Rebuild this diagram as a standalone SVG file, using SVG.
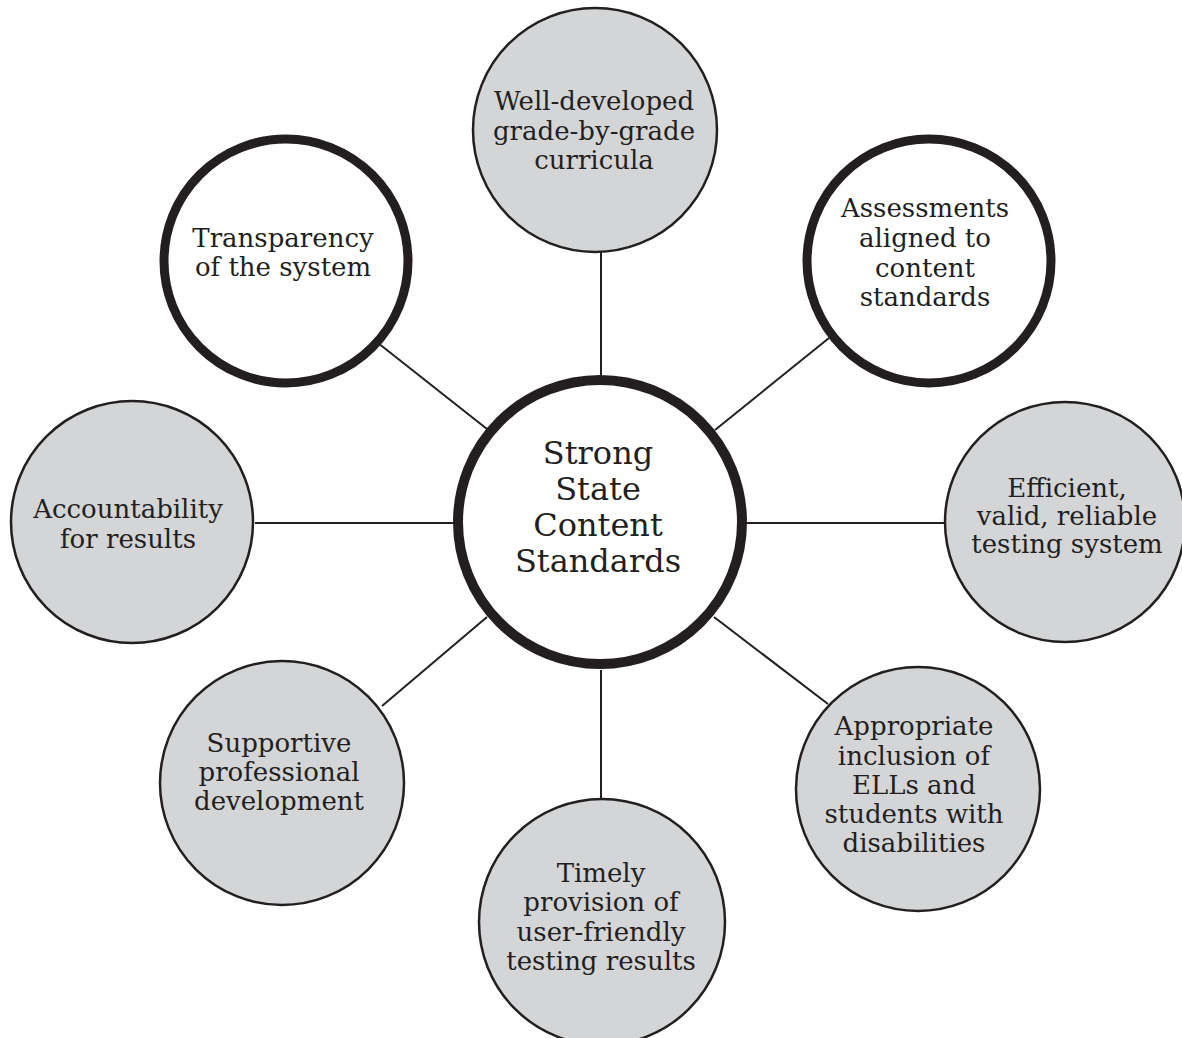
<svg xmlns="http://www.w3.org/2000/svg" width="1182" height="1038" viewBox="0 0 1182 1038">
<style>
.bg{fill:#ffffff}
.gray{fill:#d4d5d7;stroke:#231f20;stroke-width:2.5}
.bold{fill:#ffffff;stroke:#231f20;stroke-width:9}
.hub{fill:#ffffff;stroke:#231f20;stroke-width:10}
.lbl{font-family:"DejaVu Serif","Liberation Serif",serif;font-size:26px;fill:#231f20;text-anchor:middle}
.hubl{font-family:"DejaVu Serif","Liberation Serif",serif;font-size:32px;fill:#231f20;text-anchor:middle}
.conn line{stroke:#231f20;stroke-width:2}
</style>
<rect class="bg" x="0" y="0" width="1182" height="1038"/>
<g id="connectors" class="conn">
<line x1="601" y1="251" x2="601" y2="376"/>
<line x1="715" y1="430" x2="829" y2="338"/>
<line x1="747" y1="523" x2="945" y2="523"/>
<line x1="714" y1="617" x2="828" y2="704"/>
<line x1="601" y1="670" x2="601" y2="799"/>
<line x1="487" y1="617" x2="382" y2="706"/>
<line x1="255" y1="523" x2="453" y2="523"/>
<line x1="487" y1="429" x2="378" y2="343"/>
</g>
<g id="hub">
<circle class="hub" cx="600" cy="522" r="142"/>
<text class="hubl"><tspan x="598" y="464">Strong</tspan><tspan x="598" y="500">State</tspan><tspan x="598" y="536">Content</tspan><tspan x="598" y="572">Standards</tspan></text>
</g>
<g id="curricula">
<circle class="gray" cx="595" cy="130" r="122"/>
<text class="lbl"><tspan x="594" y="110">Well-developed</tspan><tspan x="594" y="140">grade-by-grade</tspan><tspan x="594" y="169">curricula</tspan></text>
</g>
<g id="assessments">
<circle class="bold" cx="929" cy="261" r="122"/>
<text class="lbl"><tspan x="925" y="217">Assessments</tspan><tspan x="925" y="247">aligned to</tspan><tspan x="925" y="277">content</tspan><tspan x="925" y="306">standards</tspan></text>
</g>
<g id="testing">
<circle class="gray" cx="1065" cy="522" r="120"/>
<text class="lbl"><tspan x="1067" y="497">Efficient,</tspan><tspan x="1067" y="525">valid, reliable</tspan><tspan x="1067" y="553">testing system</tspan></text>
</g>
<g id="inclusion">
<circle class="gray" cx="918" cy="789" r="122"/>
<text class="lbl"><tspan x="914" y="735">Appropriate</tspan><tspan x="914" y="765">inclusion of</tspan><tspan x="914" y="794">ELLs and</tspan><tspan x="914" y="823">students with</tspan><tspan x="914" y="852">disabilities</tspan></text>
</g>
<g id="results">
<circle class="gray" cx="602" cy="922" r="123"/>
<text class="lbl"><tspan x="601" y="882">Timely</tspan><tspan x="601" y="911">provision of</tspan><tspan x="601" y="941">user-friendly</tspan><tspan x="601" y="970">testing results</tspan></text>
</g>
<g id="development">
<circle class="gray" cx="282" cy="783" r="122"/>
<text class="lbl"><tspan x="279" y="752">Supportive</tspan><tspan x="279" y="781">professional</tspan><tspan x="279" y="810">development</tspan></text>
</g>
<g id="accountability">
<circle class="gray" cx="132" cy="522" r="121"/>
<text class="lbl"><tspan x="128" y="518">Accountability</tspan><tspan x="128" y="548">for results</tspan></text>
</g>
<g id="transparency">
<circle class="bold" cx="286" cy="261" r="122"/>
<text class="lbl"><tspan x="283" y="247">Transparency</tspan><tspan x="283" y="276">of the system</tspan></text>
</g>
</svg>
